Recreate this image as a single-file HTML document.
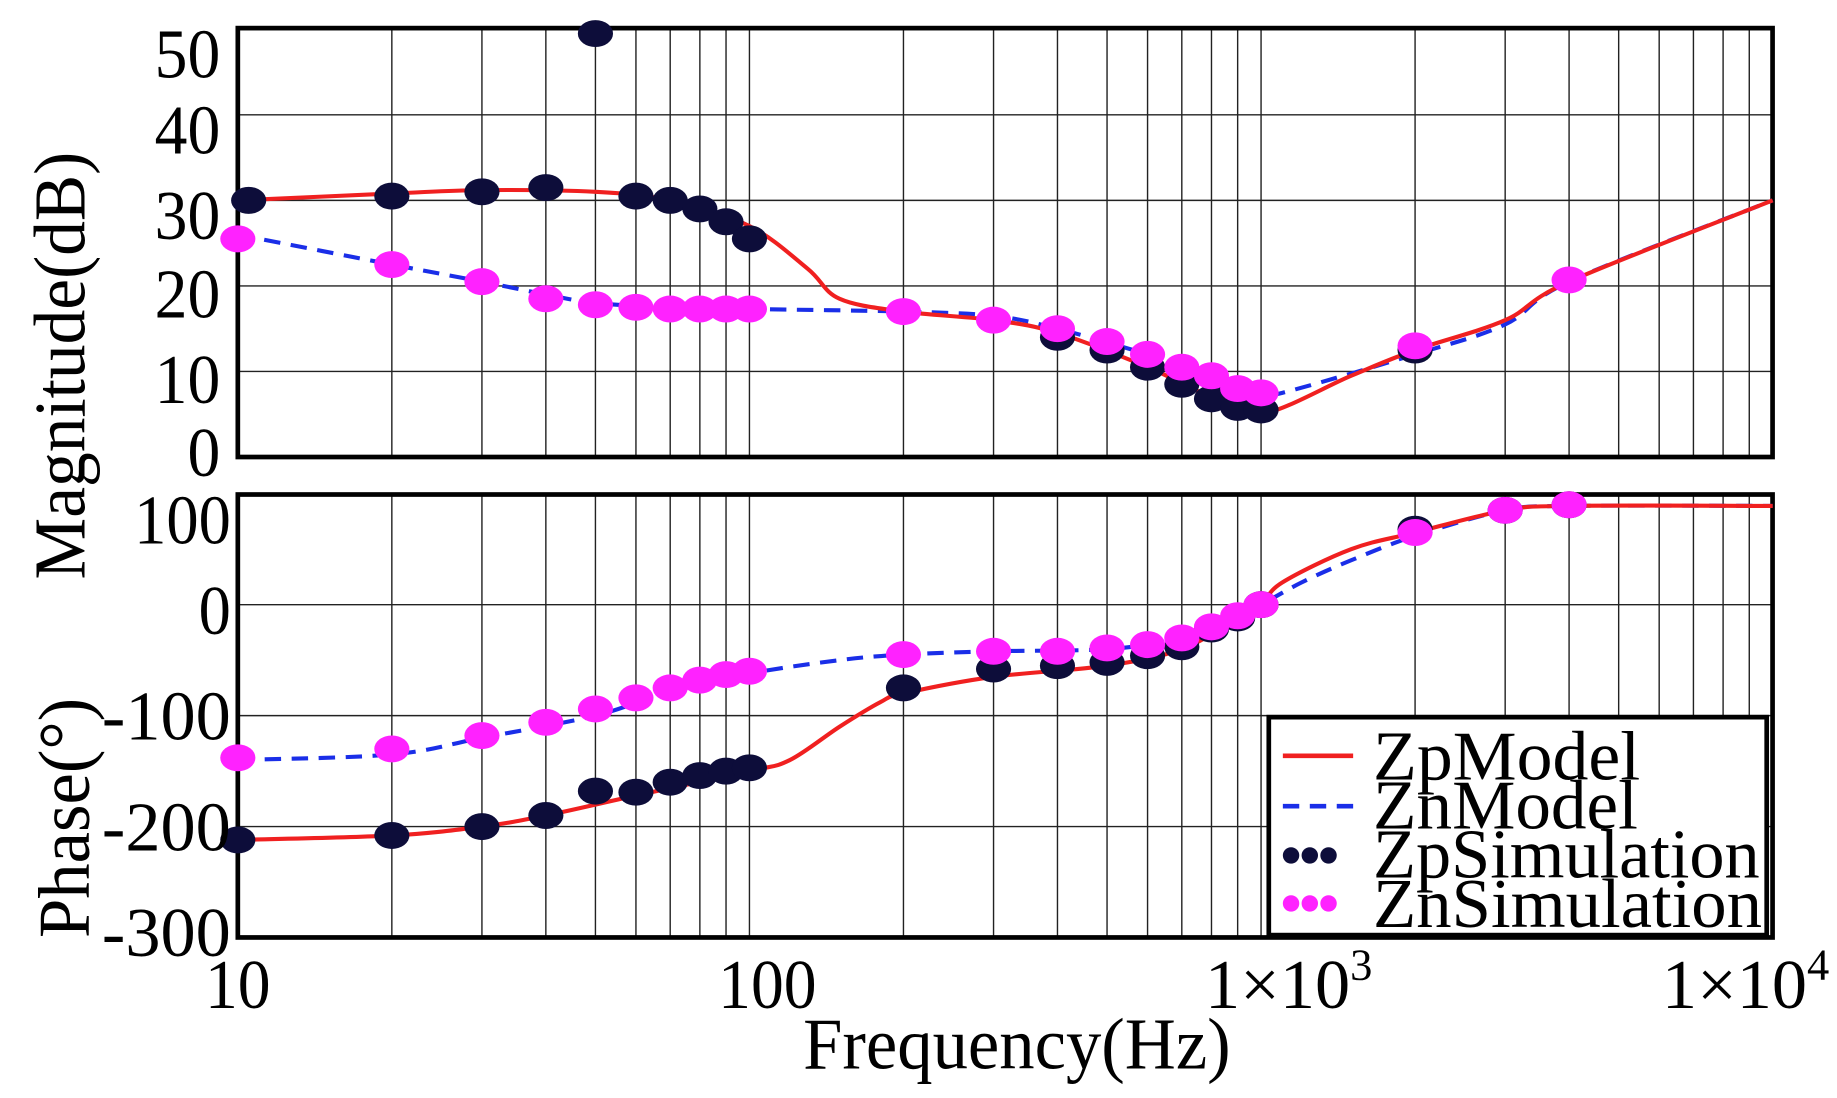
<!DOCTYPE html>
<html><head><meta charset="utf-8"><style>
html,body{margin:0;padding:0;background:#fff;}
svg{display:block;}
text{font-family:"Liberation Serif",serif;fill:#000;}
</style></head><body>
<svg id="s" width="1837" height="1098" viewBox="0 0 1568 937" preserveAspectRatio="none" xmlns="http://www.w3.org/2000/svg"></svg>
<script>
const s=document.getElementById('s');
const X0=203,DEC=436.7;
const fx=f=>X0+DEC*Math.log10(f/10);
const ym=v=>390-7.3*v;
const yp=p=>516-0.947*p;
let h='';
function grid(top,bot,ylines){
  for(let d=0;d<3;d++)for(let k=1;k<=9;k++){const x=fx(10*Math.pow(10,d)*k);h+=`<line x1="${x}" y1="${top}" x2="${x}" y2="${bot}" stroke="#222" stroke-width="1.2"/>`;}
  ylines.forEach(y=>h+=`<line x1="${X0}" y1="${y}" x2="1513" y2="${y}" stroke="#222" stroke-width="1.2"/>`);
  h+=`<rect x="${X0}" y="${top}" width="${1513-X0}" height="${bot-top}" fill="none" stroke="#000" stroke-width="4"/>`;
}
grid(24,390,[10,20,30,40].map(ym));
grid(422,800,[100,0,-100,-200].map(yp));
function path(pts,yf,col,dash){
  const P=pts.map(p=>[fx(p[0]),yf(p[1])]);
  let d=`M${P[0][0]},${P[0][1]}`;
  for(let i=0;i<P.length-1;i++){
    const p0=P[i-1]||P[i],p1=P[i],p2=P[i+1],p3=P[i+2]||P[i+1];
    const c1=[p1[0]+(p2[0]-p0[0])/6,p1[1]+(p2[1]-p0[1])/6],c2=[p2[0]-(p3[0]-p1[0])/6,p2[1]-(p3[1]-p1[1])/6];
    d+=`C${c1[0]},${c1[1]} ${c2[0]},${c2[1]} ${p2[0]},${p2[1]}`;
  }
  h+=`<path d="${d}" fill="none" stroke="${col}" stroke-width="3.5" ${dash?'stroke-dasharray="14,9"':''}/>`;
}
function dots(pts,yf,col){pts.forEach(p=>h+=`<ellipse cx="${fx(p[0])}" cy="${yf(p[1])}" rx="15" ry="11.5" fill="${col}"/>`);}
const zpm=[[10,30],[20,30.8],[30,31.2],[50,31],[70,30],[100,27],[130,22],[150,18.5],[200,17],[300,16],[400,14.5],[600,10.5],[800,7],[1000,5],[1500,9.5],[2000,12.5],[3000,16],[4000,20.5],[10000,30]];
const znm=[[10,26],[20,22.5],[30,20.5],[40,19],[50,18],[70,17.5],[100,17.3],[200,17],[300,16.5],[400,15],[600,12],[800,9.5],[1000,7.5],[1100,7.5],[2000,12],[3000,15.5],[4000,20.5],[10000,30]];
path(znm,ym,'#1a2ee8',true);path(zpm,ym,'#f02020',false);
dots([[10.5,30],[20,30.5],[30,31],[40,31.5],[50,49.5],[60,30.5],[70,30],[80,29],[90,27.5],[100,25.5],[400,14],[500,12.5],[600,10.5],[700,8.5],[800,6.8],[900,5.8],[1000,5.5],[2000,12.5]],ym,'#0d0d3a');
dots([[10,25.5],[20,22.5],[30,20.5],[40,18.5],[50,17.8],[60,17.5],[70,17.3],[80,17.3],[90,17.3],[100,17.3],[200,17],[300,16],[400,15],[500,13.5],[600,12],[700,10.5],[800,9.5],[900,8],[1000,7.5],[2000,13],[4000,20.7]],ym,'#ff22ff');
const zpp=[[10,-212],[20,-208],[30,-200],[40,-190],[60,-172],[100,-150],[120,-140],[150,-110],[180,-88],[200,-80],[300,-65],[500,-55],[700,-40],[900,-12],[1000,0],[1100,20],[1500,50],[2000,65],[3000,85],[4000,89],[10000,89]];
const znp=[[10,-140],[20,-135],[30,-120],[50,-100],[70,-78],[100,-62],[150,-50],[200,-45],[300,-42],[500,-40],[700,-30],[900,-10],[1000,0],[1200,20],[1500,40],[2000,62],[3000,85],[4000,89],[10000,89]];
path(znp,yp,'#1a2ee8',true);path(zpp,yp,'#f02020',false);
dots([[10,-212],[20,-208],[30,-200],[40,-190],[50,-168],[60,-169],[70,-160],[80,-154],[90,-150],[100,-147],[200,-75],[300,-58],[400,-55],[500,-52],[600,-46],[700,-38],[800,-22],[900,-12],[1000,0],[2000,68],[3000,85],[4000,90]],yp,'#0d0d3a');
dots([[10,-138],[20,-130],[30,-118],[40,-106],[50,-94],[60,-84],[70,-75],[80,-68],[90,-63],[100,-60],[200,-45],[300,-42],[400,-42],[500,-39],[600,-36],[700,-30],[800,-20],[900,-10],[1000,0],[2000,65],[3000,85],[4000,90]],yp,'#ff22ff');
h+=`<rect x="1083" y="612" width="425" height="186" fill="#fff" stroke="#000" stroke-width="4"/>`;
h+=`<line x1="1095" y1="645" x2="1155" y2="645" stroke="#f02020" stroke-width="4"/>`;
h+=`<line x1="1095" y1="688" x2="1155" y2="688" stroke="#1a2ee8" stroke-width="4" stroke-dasharray="14,9"/>`;
[1102,1118,1134].forEach(x=>{h+=`<circle cx="${x}" cy="730" r="7" fill="#0d0d3a"/><circle cx="${x}" cy="771" r="7" fill="#ff22ff"/>`;});
[['ZpModel',665,228],['ZnModel',707,226],['ZpSimulation',749,330],['ZnSimulation',791,332]].forEach(t=>h+=`<text x="1172" y="${t[1]}" font-size="60" textLength="${t[2]}" lengthAdjust="spacingAndGlyphs">${t[0]}</text>`);
const T=(x,y,str,anchor,len)=>h+=`<text x="${x}" y="${y}" font-size="60" text-anchor="${anchor}" ${len?`textLength="${len}" lengthAdjust="spacingAndGlyphs"`:''}>${str}</text>`;
[['50',45],['40',110],['30',183],['20',250],['10',323],['0',385]].forEach(t=>T(188,t[1]+21,t[0],'end',t[0].length*28));
[['100',443],['0',520],['-100',610],['-200',705],['-300',795]].forEach(t=>T(197,t[1]+21,t[0],'end',t[0].length*27.5));
T(203,860,'10','middle',56);
T(655,860,'100','middle',84);
h+=`<text x="1100" y="860" font-size="60" text-anchor="middle">1×10<tspan dy="-24" font-size="38">3</tspan></text>`;
h+=`<text x="1490" y="860" font-size="60" text-anchor="middle">1×10<tspan dy="-24" font-size="38">4</tspan></text>`;
h+=`<text x="868" y="912" font-size="62" text-anchor="middle" textLength="365" lengthAdjust="spacingAndGlyphs">Frequency(Hz)</text>`;
h+=`<text transform="translate(72,312) rotate(-90)" font-size="62" text-anchor="middle" textLength="365" lengthAdjust="spacingAndGlyphs">Magnitude(dB)</text>`;
h+=`<text transform="translate(76,698) rotate(-90)" font-size="62" text-anchor="middle" textLength="205" lengthAdjust="spacingAndGlyphs">Phase(°)</text>`;
s.innerHTML=h;
</script>
</body></html>
